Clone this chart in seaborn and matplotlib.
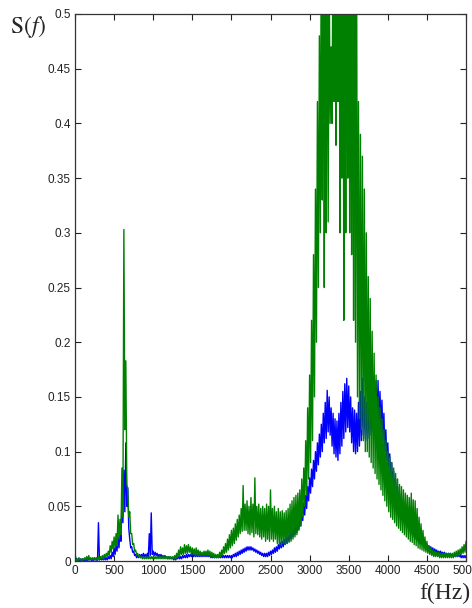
import numpy as np
import pandas as pd
import matplotlib
matplotlib.use("Agg")
import matplotlib.pyplot as plt
import seaborn as sns

# frequency grid (Hz), one reading every 25 Hz
freq = np.arange(0, 5001, 25)

# the spectra are very noisy, so each one is read off the picture as the
# top and bottom of its noise band at every grid frequency (10 per row = 250 Hz)
green_hi = [
    0.003, 0.002, 0.003, 0.002, 0.002, 0.003, 0.004, 0.005, 0.003, 0.003,
    0.003, 0.003, 0.004, 0.004, 0.005, 0.006, 0.007, 0.009, 0.014, 0.018,
    0.022, 0.025, 0.042, 0.038, 0.085, 0.303, 0.183, 0.065, 0.045, 0.025,
    0.016, 0.010, 0.007, 0.005, 0.004, 0.004, 0.004, 0.004, 0.004, 0.004,
    0.004, 0.004, 0.004, 0.004, 0.004, 0.004, 0.004, 0.004, 0.004, 0.004,
    0.004, 0.005, 0.007, 0.010, 0.013, 0.012, 0.015, 0.014, 0.015, 0.013,
    0.012, 0.011, 0.012, 0.010, 0.009, 0.008, 0.009, 0.009, 0.010, 0.009,
    0.008, 0.007, 0.006, 0.006, 0.008, 0.010, 0.013, 0.016, 0.020, 0.024,
    0.028, 0.030, 0.034, 0.038, 0.042, 0.048, 0.069, 0.052, 0.055, 0.050,
    0.058, 0.052, 0.076, 0.050, 0.052, 0.048, 0.050, 0.048, 0.052, 0.050,
    0.065, 0.048, 0.050, 0.045, 0.048, 0.045, 0.046, 0.044, 0.046, 0.048,
    0.052, 0.055, 0.058, 0.060, 0.062, 0.065, 0.075, 0.085, 0.110, 0.140,
    0.170, 0.220, 0.280, 0.340, 0.420, 0.480, 0.600, 0.650, 0.620, 0.600,
    0.550, 0.470, 0.600, 0.650, 0.700, 0.700, 0.700, 0.700, 0.700, 0.700,
    0.700, 0.700, 0.700, 0.650, 0.600, 0.420, 0.390, 0.370, 0.340, 0.300,
    0.260, 0.240, 0.210, 0.190, 0.170, 0.150, 0.140, 0.130, 0.120, 0.110,
    0.100, 0.095, 0.090, 0.085, 0.080, 0.075, 0.070, 0.068, 0.065, 0.062,
    0.060, 0.058, 0.062, 0.056, 0.055, 0.048, 0.040, 0.034, 0.028, 0.022,
    0.018, 0.014, 0.012, 0.010, 0.009, 0.008, 0.008, 0.007, 0.007, 0.007,
    0.007, 0.007, 0.007, 0.007, 0.008, 0.009, 0.010, 0.011, 0.013, 0.015,
    0.018,
]
green_lo = [
    0.000, 0.000, 0.001, 0.000, 0.001, 0.001, 0.001, 0.001, 0.001, 0.001,
    0.001, 0.001, 0.001, 0.002, 0.002, 0.003, 0.004, 0.005, 0.008, 0.011,
    0.012, 0.014, 0.020, 0.024, 0.040, 0.120, 0.070, 0.040, 0.025, 0.015,
    0.009, 0.006, 0.004, 0.003, 0.002, 0.002, 0.002, 0.002, 0.002, 0.002,
    0.002, 0.002, 0.002, 0.002, 0.002, 0.002, 0.002, 0.002, 0.002, 0.002,
    0.002, 0.002, 0.003, 0.004, 0.006, 0.006, 0.007, 0.007, 0.008, 0.006,
    0.006, 0.005, 0.005, 0.005, 0.005, 0.005, 0.005, 0.005, 0.005, 0.004,
    0.004, 0.003, 0.003, 0.003, 0.004, 0.005, 0.007, 0.008, 0.010, 0.012,
    0.014, 0.016, 0.019, 0.022, 0.025, 0.027, 0.028, 0.028, 0.025, 0.024,
    0.026, 0.022, 0.025, 0.024, 0.022, 0.020, 0.022, 0.018, 0.020, 0.018,
    0.020, 0.018, 0.020, 0.016, 0.015, 0.014, 0.016, 0.015, 0.016, 0.017,
    0.018, 0.020, 0.022, 0.024, 0.028, 0.032, 0.040, 0.050, 0.060, 0.075,
    0.090, 0.110, 0.150, 0.200, 0.250, 0.300, 0.330, 0.250, 0.300, 0.310,
    0.400, 0.400, 0.420, 0.380, 0.420, 0.300, 0.350, 0.220, 0.300, 0.350,
    0.300, 0.280, 0.220, 0.200, 0.150, 0.130, 0.120, 0.110, 0.100, 0.100,
    0.095, 0.090, 0.085, 0.080, 0.075, 0.070, 0.065, 0.060, 0.055, 0.050,
    0.045, 0.040, 0.038, 0.035, 0.032, 0.030, 0.028, 0.026, 0.024, 0.022,
    0.020, 0.018, 0.017, 0.015, 0.014, 0.012, 0.011, 0.010, 0.009, 0.008,
    0.007, 0.006, 0.005, 0.004, 0.004, 0.004, 0.003, 0.003, 0.003, 0.003,
    0.003, 0.003, 0.003, 0.003, 0.004, 0.004, 0.005, 0.006, 0.007, 0.008,
    0.010,
]

blue_hi = [
    0.007, 0.002, 0.002, 0.002, 0.002, 0.002, 0.002, 0.003, 0.002, 0.002,
    0.003, 0.002, 0.035, 0.003, 0.003, 0.003, 0.003, 0.004, 0.005, 0.008,
    0.012, 0.016, 0.022, 0.030, 0.056, 0.083, 0.108, 0.067, 0.020, 0.013,
    0.009, 0.006, 0.005, 0.006, 0.006, 0.007, 0.006, 0.007, 0.025, 0.044,
    0.009, 0.008, 0.007, 0.006, 0.006, 0.005, 0.005, 0.004, 0.004, 0.003,
    0.003, 0.003, 0.003, 0.004, 0.004, 0.005, 0.005, 0.006, 0.006, 0.006,
    0.007, 0.006, 0.006, 0.006, 0.006, 0.006, 0.007, 0.006, 0.006, 0.006,
    0.005, 0.005, 0.005, 0.005, 0.005, 0.005, 0.005, 0.005, 0.005, 0.005,
    0.005, 0.006, 0.007, 0.008, 0.009, 0.010, 0.011, 0.012, 0.013, 0.013,
    0.013, 0.012, 0.011, 0.010, 0.009, 0.008, 0.007, 0.007, 0.007, 0.008,
    0.009, 0.010, 0.012, 0.013, 0.015, 0.017, 0.018, 0.020, 0.022, 0.024,
    0.026, 0.028, 0.030, 0.033, 0.036, 0.040, 0.046, 0.053, 0.060, 0.068,
    0.076, 0.084, 0.092, 0.100, 0.108, 0.116, 0.125, 0.135, 0.145, 0.156,
    0.150, 0.140, 0.135, 0.130, 0.128, 0.135, 0.145, 0.155, 0.162, 0.167,
    0.160, 0.150, 0.140, 0.138, 0.135, 0.145, 0.155, 0.167, 0.150, 0.145,
    0.148, 0.150, 0.155, 0.160, 0.165, 0.165, 0.155, 0.147, 0.135, 0.120,
    0.108, 0.098, 0.090, 0.082, 0.075, 0.068, 0.062, 0.056, 0.050, 0.045,
    0.041, 0.037, 0.033, 0.030, 0.027, 0.024, 0.022, 0.020, 0.018, 0.016,
    0.015, 0.014, 0.013, 0.012, 0.011, 0.010, 0.009, 0.009, 0.008, 0.008,
    0.007, 0.007, 0.007, 0.006, 0.006, 0.006, 0.006, 0.006, 0.005, 0.005,
    0.005,
]
blue_lo = [
    0.001, 0.000, 0.000, 0.000, 0.000, 0.000, 0.000, 0.001, 0.000, 0.000,
    0.001, 0.000, 0.001, 0.001, 0.001, 0.001, 0.001, 0.002, 0.002, 0.004,
    0.006, 0.009, 0.012, 0.018, 0.035, 0.045, 0.050, 0.030, 0.012, 0.008,
    0.005, 0.003, 0.003, 0.003, 0.004, 0.004, 0.003, 0.004, 0.005, 0.006,
    0.005, 0.005, 0.004, 0.004, 0.003, 0.003, 0.003, 0.002, 0.002, 0.002,
    0.001, 0.001, 0.002, 0.002, 0.002, 0.003, 0.003, 0.003, 0.004, 0.004,
    0.004, 0.004, 0.004, 0.004, 0.004, 0.004, 0.004, 0.004, 0.004, 0.003,
    0.003, 0.003, 0.003, 0.003, 0.003, 0.003, 0.003, 0.003, 0.003, 0.003,
    0.003, 0.004, 0.004, 0.005, 0.006, 0.007, 0.008, 0.009, 0.010, 0.010,
    0.010, 0.009, 0.008, 0.007, 0.006, 0.005, 0.004, 0.004, 0.004, 0.005,
    0.006, 0.007, 0.008, 0.009, 0.011, 0.012, 0.013, 0.015, 0.016, 0.018,
    0.020, 0.022, 0.024, 0.026, 0.029, 0.032, 0.037, 0.042, 0.048, 0.055,
    0.062, 0.068, 0.075, 0.082, 0.088, 0.095, 0.100, 0.108, 0.112, 0.118,
    0.115, 0.105, 0.098, 0.095, 0.092, 0.098, 0.105, 0.112, 0.118, 0.122,
    0.118, 0.108, 0.100, 0.098, 0.100, 0.105, 0.110, 0.115, 0.112, 0.110,
    0.112, 0.115, 0.118, 0.120, 0.122, 0.125, 0.118, 0.110, 0.100, 0.092,
    0.085, 0.078, 0.070, 0.064, 0.058, 0.052, 0.047, 0.042, 0.038, 0.034,
    0.030, 0.027, 0.024, 0.022, 0.020, 0.018, 0.016, 0.015, 0.013, 0.012,
    0.011, 0.010, 0.009, 0.008, 0.008, 0.007, 0.007, 0.006, 0.006, 0.005,
    0.005, 0.005, 0.004, 0.004, 0.004, 0.004, 0.004, 0.003, 0.003, 0.003,
    0.003,
]

xticks = list(range(0, 5001, 500))
yticks = [0, 0.05, 0.1, 0.15, 0.2, 0.25, 0.3, 0.35, 0.4, 0.45, 0.5]
ytick_labels = ["0", "0.05", "0.1", "0.15", "0.2", "0.25", "0.3", "0.35", "0.4", "0.45", "0.5"]


def zigzag(hi, lo):
    # top of the band at each grid frequency, bottom half a step later
    f = np.column_stack([freq, freq + 12.5]).ravel()
    s = np.column_stack([hi, lo]).ravel()
    return pd.DataFrame({"f": f, "S": s})


df_blue = zigzag(blue_hi, blue_lo)
df_green = zigzag(green_hi, green_lo)

sns.set_style("ticks")
plt.rcParams["font.family"] = ["Liberation Sans", "DejaVu Sans"]
plt.rcParams["mathtext.fontset"] = "stix"

fig = plt.figure(figsize=(4.72, 6.08), dpi=100)
ax = fig.add_axes([75 / 472, 47 / 608, 391 / 472, 547 / 608])

sns.lineplot(data=df_blue, x="f", y="S", color="#0000ff", linewidth=1.0,
             estimator=None, sort=False, ax=ax)
sns.lineplot(data=df_green, x="f", y="S", color="#008000", linewidth=1.0,
             estimator=None, sort=False, ax=ax)

ax.set_xlim(0, 5000)
ax.set_ylim(0, 0.5)
ax.set_xticks(xticks)
ax.set_xticklabels([str(t) for t in xticks])
ax.set_yticks(yticks)
ax.set_yticklabels(ytick_labels)
ax.set_xlabel("")
ax.set_ylabel("")
ax.tick_params(direction="in", length=4, width=0.8, top=True, right=True,
               labelsize=8.5, colors="#222222", pad=3)
for s in ax.spines.values():
    s.set_visible(True)
    s.set_linewidth(0.9)
    s.set_color("#333333")

fig.text(10 / 472, 1 - 27 / 608, r"$\mathrm{S}(f)$", fontsize=17, va="center", ha="left")
fig.text(470 / 472, 1 - 583 / 608, "f(Hz)", fontsize=17, va="top", ha="right",
         family=["Liberation Serif", "DejaVu Serif"])

fig.savefig("out.png", dpi=100, facecolor="white")
